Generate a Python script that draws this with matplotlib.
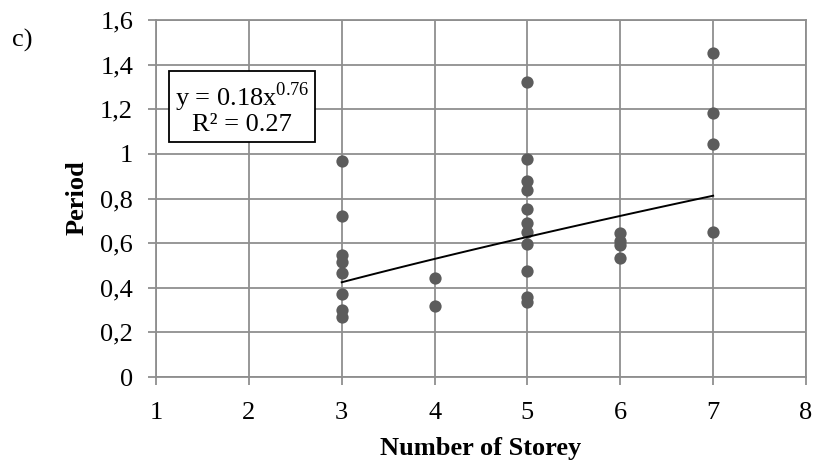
import numpy as np
import matplotlib
matplotlib.use("Agg")
import matplotlib.pyplot as plt

# Data
storeys_3 = [3] * 8
period_3 = [0.97, 0.72, 0.545, 0.515, 0.465, 0.37, 0.30, 0.27]
storeys_4 = [4] * 2
period_4 = [0.443, 0.317]
storeys_5 = [5] * 11
period_5 = [1.32, 0.975, 0.88, 0.84, 0.755, 0.69, 0.648, 0.594, 0.476, 0.357, 0.338]
storeys_6 = [6] * 4
period_6 = [0.645, 0.61, 0.59, 0.532]
storeys_7 = [7] * 4
period_7 = [1.45, 1.185, 1.045, 0.652]

fit_a = 0.183
fit_b = 0.766
equation_text = "y = 0.18x$^{0.76}$\nR² = 0.27"

x_ticks = [1, 2, 3, 4, 5, 6, 7, 8]
y_ticks = [0, 0.2, 0.4, 0.6, 0.8, 1.0, 1.2, 1.4, 1.6]
y_tick_labels = ["0", "0,2", "0,4", "0,6", "0,8", "1", "1,2", "1,4", "1,6"]

plt.rcParams['font.family'] = ['Liberation Serif', 'DejaVu Serif']
plt.rcParams['mathtext.fontset'] = 'custom'
plt.rcParams['mathtext.rm'] = 'Liberation Serif'

fig = plt.figure(figsize=(8.14, 4.66), dpi=100)
ax = fig.add_axes([156 / 814, 1 - 377 / 466, (806 - 156) / 814, (377 - 20) / 466])

xs = np.array(storeys_3 + storeys_4 + storeys_5 + storeys_6 + storeys_7, dtype=float)
ys = np.array(period_3 + period_4 + period_5 + period_6 + period_7, dtype=float)

grid_col = '#8f8f8f'
ax.set_xlim(1, 8)
ax.set_ylim(0, 1.6)
ax.set_xticks(x_ticks)
ax.set_yticks(y_ticks)
ax.set_yticklabels(y_tick_labels)
ax.grid(True, color=grid_col, linewidth=1.3, zorder=0)
ax.set_axisbelow(True)
for s in ax.spines.values():
    s.set_color(grid_col)
    s.set_linewidth(1.3)
ax.tick_params(axis='both', direction='out', length=6, width=1.3, color=grid_col,
               labelsize=19, labelcolor='black')
ax.tick_params(axis='y', pad=10.5)
ax.tick_params(axis='x', pad=12)

ax.scatter(xs, ys, s=78, color='#5c5c5c', zorder=3, linewidths=0)

xf = np.linspace(xs.min(), xs.max(), 100)
ax.plot(xf, fit_a * xf ** fit_b, color='black', linewidth=1.4, zorder=4)

ax.text(1.93, 1.205, equation_text, fontsize=19, ha='center', va='center',
        linespacing=1.0, zorder=5,
        bbox=dict(boxstyle='square,pad=0.22', facecolor='white', edgecolor='black', linewidth=1.3))

ax.set_xlabel("Number of Storey", fontsize=19, fontweight='bold', labelpad=9)
fig.text(77 / 814, 1 - 198 / 466, "Period", fontsize=19, fontweight='bold',
         rotation=90, ha='center', va='center')

fig.text(22 / 814, 1 - 40 / 466, "c)", fontsize=19, ha='center', va='center')

fig.savefig("out.png", dpi=100)
